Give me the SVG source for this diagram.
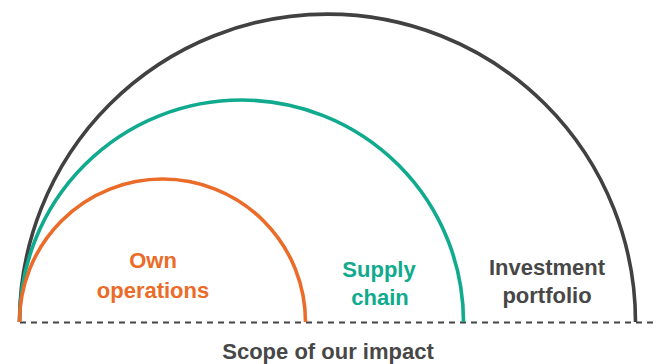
<svg xmlns="http://www.w3.org/2000/svg" width="659" height="364" viewBox="0 0 659 364">
  <style>
    .arc { fill: none; stroke-width: 3.6; stroke-linecap: butt; }
    .lbl { font-family: "Liberation Sans", Arial, sans-serif; font-weight: bold; font-size: 22px; text-anchor: middle; }
    .orange { stroke: #EB6B28; }
    .green { stroke: #10AA8E; }
    .dark { stroke: #414141; }
    .t-orange { fill: #EB6B28; }
    .t-green { fill: #10AA8E; }
    .t-dark { fill: #474747; }
  </style>
  <rect width="659" height="364" fill="#ffffff"/>
  <g id="connectors">
    <line x1="20" y1="322.5" x2="657" y2="322.5" stroke="#444444" stroke-width="2" stroke-dasharray="6 5"/>
  </g>
  <g id="investment-portfolio">
    <path class="arc dark" d="M 19.5 322 A 308 308 0 0 1 635.5 322"/>
    <text class="lbl t-dark" x="547" y="275">Investment</text>
    <text class="lbl t-dark" x="547" y="303">portfolio</text>
  </g>
  <g id="supply-chain">
    <path class="arc green" d="M 19.5 322 A 222 222 0 0 1 463.5 322"/>
    <text class="lbl t-green" x="379" y="277">Supply</text>
    <text class="lbl t-green" x="380" y="305">chain</text>
  </g>
  <g id="own-operations">
    <path class="arc orange" d="M 19.5 322 A 143 143 0 0 1 305.5 322"/>
    <text class="lbl t-orange" x="153" y="268">Own</text>
    <text class="lbl t-orange" x="153" y="298">operations</text>
  </g>
  <g id="scope-label">
    <text class="lbl t-dark" x="328" y="359">Scope of our impact</text>
  </g>
</svg>
